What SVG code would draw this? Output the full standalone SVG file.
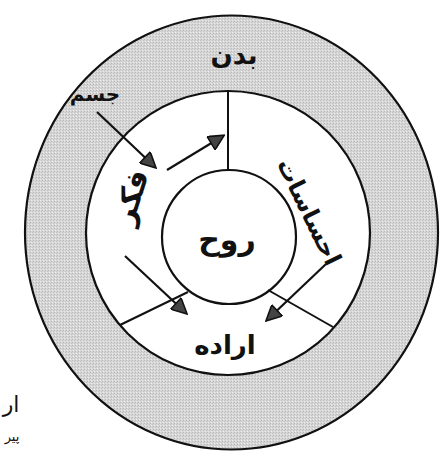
<svg xmlns="http://www.w3.org/2000/svg" width="440" height="453" viewBox="0 0 440 453">
<style>
.ring{stroke:#111;stroke-width:2.2}
.ln{stroke:#111;stroke-width:2;fill:none}
.ar{stroke:#111;stroke-width:2.2;fill:none;marker-end:url(#ah)}
text{font-family:"DejaVu Sans","Noto Sans",sans-serif;fill:#111;font-weight:bold;text-anchor:middle;direction:rtl}
text.thin{font-weight:normal}
</style>
<defs>
<pattern id="ht" width="3" height="3" patternUnits="userSpaceOnUse">
<rect width="3" height="3" fill="#d6d6d6"/>
<rect x="0" y="0" width="1" height="1" fill="#b8b8b8"/>
<rect x="1" y="2" width="1" height="1" fill="#ececec"/>
<rect x="2" y="1" width="1" height="1" fill="#c4c4c4"/>
</pattern>
<marker id="ah" viewBox="0 0 10 10" refX="9" refY="5" markerWidth="8" markerHeight="7" orient="auto" markerUnits="strokeWidth">
<path d="M0,0 L10,5 L0,10 Z" fill="#444" stroke="#111" stroke-width="1"/>
</marker>
</defs>
<rect width="440" height="453" fill="#fff"/>
<g id="body">
<ellipse class="ring" cx="231.5" cy="232.5" rx="206.5" ry="217" fill="url(#ht)"/>
<text x="234" y="64" font-size="26">بدن</text>
</g>
<g id="mind-ring">
<circle class="ring" cx="228" cy="233" r="142" fill="#fff"/>
</g>
<g id="soul">
<circle class="ring" cx="229" cy="237" r="67" fill="#fff"/>
<text x="227" y="250" font-size="30">روح</text>
</g>
<g id="dividers">
<line class="ln" x1="228" y1="91" x2="228" y2="170"/>
<line class="ln" x1="120" y1="325" x2="188" y2="292"/>
<line class="ln" x1="268" y1="290" x2="333" y2="327"/>
</g>
<g id="jism">
<text x="95" y="101" font-size="20">جسم</text>
</g>
<g id="fekr">
<text x="0" y="0" font-size="30" transform="translate(131,197) rotate(-72) translate(0,10)">فکر</text>
</g>
<g id="ehsasat">
<text x="0" y="0" font-size="24" transform="translate(309,212) rotate(64) translate(0,8)">احساسات</text>
</g>
<g id="erade">
<text x="225" y="354" font-size="26">اراده</text>
</g>
<g id="connectors">
<line class="ar" x1="97" y1="112" x2="155" y2="167"/>
<line class="ar" x1="167" y1="170" x2="223" y2="136"/>
<line class="ar" x1="125" y1="256" x2="186" y2="313"/>
<line class="ar" x1="326" y1="264" x2="267" y2="320"/>
</g>
<g id="margin">
<text class="thin" x="11" y="412" font-size="22">ار</text>
<text class="thin" x="12" y="441" font-size="13">پیر</text>
</g>
</svg>
